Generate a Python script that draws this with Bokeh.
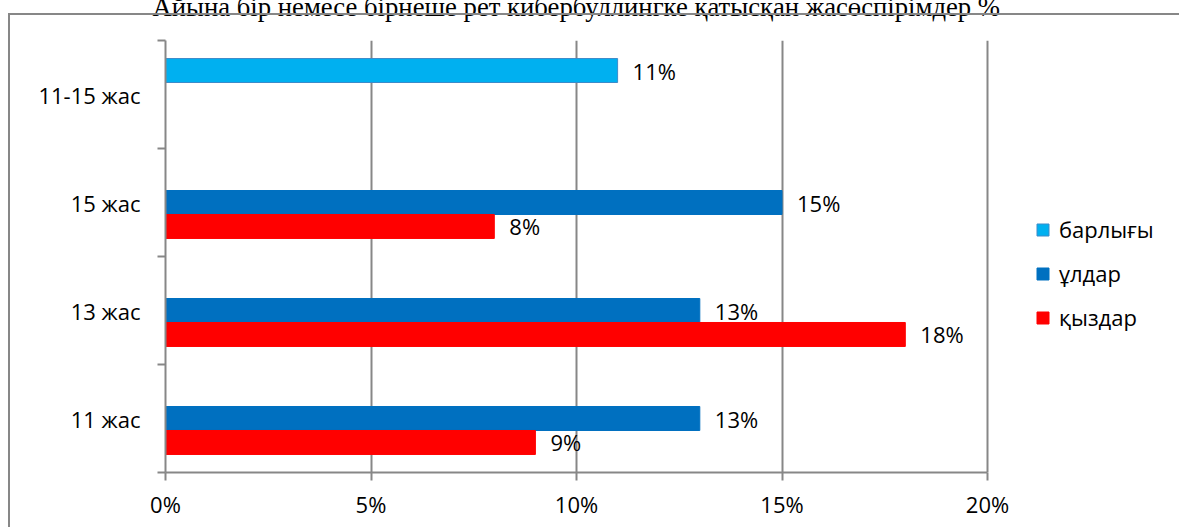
from bokeh.plotting import figure
from bokeh.models import (ColumnDataSource, Range1d, FixedTicker, NumeralTickFormatter,
                          Legend, LegendItem, InlineStyleSheet)
from bokeh.transform import dodge
from bokeh.core.properties import value
from bokeh.embed import file_html
from bokeh.resources import INLINE

# ---- data ----
title_text = "Айына бір немесе бірнеше рет кибербуллингке қатысқан жасөспірімдер %"
categories = ["11 жас", "13 жас", "15 жас", "11-15 жас"]
series_names = ["барлығы", "ұлдар", "қыздар"]
barlygy = [None, None, None, 0.11]
uldar = [0.13, 0.13, 0.15, None]
qyzdar = [0.09, 0.18, 0.08, None]
x_ticks = [0, 0.05, 0.10, 0.15, 0.20]

FONT = "Open Sans"
GRAY = "#878787"
FS = "22px"

# layout (pixels)
W, H_VIS = 1179, 527
SHIFT = 40                     # part of the canvas pushed above the window
LEFT, TOP, BOTTOM = 165, 40, 55
PLOT_W = 822                   # pixel width of the 0..20% axis
X_MAX = x_ticks[-1]
x_end = X_MAX * (W - LEFT) / PLOT_W

ypos = list(range(len(categories)))

def src(vals):
    d = dict(y=[], v=[], lab=[])
    for y, v in zip(ypos, vals):
        if v is not None:
            d["y"].append(y)
            d["v"].append(v)
            d["lab"].append(f"{round(v*100)}%")
    return ColumnDataSource(d)

frame_css = InlineStyleSheet(css=f"""
:host {{ position: relative; overflow: hidden; }}
:host::after {{ content: ""; position: absolute; left: 8px; top: {13 + SHIFT}px; width: 3000px; height: 3000px;
  border-left: 2px solid {GRAY}; border-top: 2px solid {GRAY}; pointer-events: none; z-index: 5; }}
""")

p = figure(width=W, height=H_VIS + SHIFT, output_backend="svg", toolbar_location=None,
           x_range=Range1d(0, x_end), y_range=Range1d(-0.5, len(categories) - 0.5),
           min_border_left=LEFT, min_border_right=0, min_border_top=TOP + SHIFT,
           min_border_bottom=BOTTOM, stylesheets=[frame_css],
           title=title_text)
p.styles = {"margin-top": f"-{SHIFT}px"}
p.outline_line_color = None
p.background_fill_color = "white"
p.border_fill_color = "white"

p.title.text_font = "Liberation Serif"
p.title.text_font_size = "26.7px"
p.title.text_font_style = "normal"
p.title.text_color = "black"
p.title.align = "left"
p.title.offset = -13
p.title.standoff = 37

# axes
p.xaxis.ticker = FixedTicker(ticks=x_ticks)
p.xaxis.formatter = NumeralTickFormatter(format="0%")
p.xaxis.bounds = (0, X_MAX)
p.yaxis.ticker = FixedTicker(ticks=ypos, minor_ticks=[y - 0.5 for y in ypos] + [ypos[-1] + 0.5])
p.yaxis.major_label_overrides = {y: c for y, c in zip(ypos, categories)}
for ax in (p.xaxis, p.yaxis):
    ax.axis_line_color = GRAY
    ax.axis_line_width = 2
    ax.major_tick_line_color = GRAY
    ax.major_tick_line_width = 2
    ax.minor_tick_line_color = GRAY
    ax.minor_tick_line_width = 2
    ax.major_label_text_font = FONT
    ax.major_label_text_font_size = FS
    ax.major_label_text_color = "black"
p.xaxis.major_tick_in = 0
p.xaxis.major_tick_out = 8
p.xaxis.minor_tick_line_color = None
p.xaxis.major_label_standoff = 8
p.yaxis.major_tick_in = 0
p.yaxis.major_tick_out = 0
p.yaxis.minor_tick_in = 0
p.yaxis.minor_tick_out = 8
p.yaxis.major_label_standoff = 17

p.xgrid.ticker = FixedTicker(ticks=x_ticks)
p.xgrid.grid_line_color = GRAY
p.xgrid.grid_line_width = 2
p.ygrid.grid_line_color = None

slot = 0.222
r_all = p.hbar(y=dodge("y", slot, range=p.y_range), right="v", left=0, height=slot,
               source=src(barlygy), fill_color="#00B0F0", line_color="#3D8BC9", line_width=1)
r_ul = p.hbar(y=dodge("y", 0, range=p.y_range), right="v", left=0, height=slot,
              source=src(uldar), fill_color="#0070C0", line_color="#0070C0", line_width=1)
r_qz = p.hbar(y=dodge("y", -slot, range=p.y_range), right="v", left=0, height=slot,
              source=src(qyzdar), fill_color="#FF0000", line_color="#FF0000", line_width=1)

for vals, off in ((barlygy, slot), (uldar, 0), (qyzdar, -slot)):
    p.text(x="v", y=dodge("y", off, range=p.y_range), text="lab", source=src(vals),
           x_offset=15, text_baseline="middle", text_align="left",
           text_font=value(FONT), text_font_size=FS, text_color="black")

legend = Legend(items=[LegendItem(label=series_names[0], renderers=[r_all]),
                       LegendItem(label=series_names[1], renderers=[r_ul]),
                       LegendItem(label=series_names[2], renderers=[r_qz])],
                location=(870, 140), orientation="vertical",
                glyph_width=15, glyph_height=15, label_standoff=9, spacing=14,
                padding=10, border_line_color=None,
                background_fill_alpha=0,
                label_text_font=FONT, label_text_font_size=FS, label_text_color="black")
p.add_layout(legend, "center")

open("out.html", "w").write(file_html(p, INLINE))
